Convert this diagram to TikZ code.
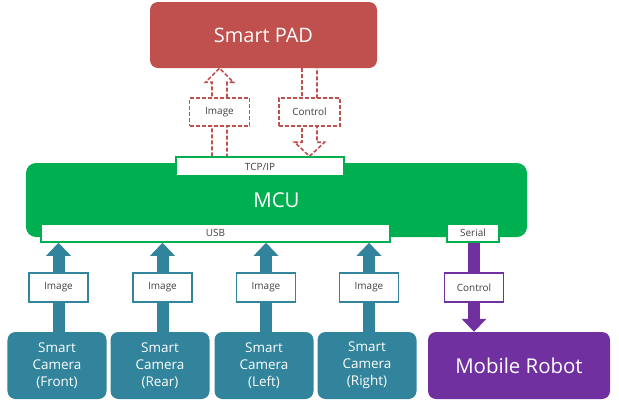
\documentclass[tikz,border=0pt]{standalone}
\usepackage{fontspec}
\setmainfont{Open Sans}
\usetikzlibrary{arrows.meta,calc}
\definecolor{padred}{HTML}{C0504D}
\definecolor{mcugreen}{HTML}{00B050}
\definecolor{camteal}{HTML}{31849B}
\definecolor{robpurple}{HTML}{7030A0}
\definecolor{labtext}{HTML}{404040}
\pgfdeclarelayer{bg}
\pgfsetlayers{bg,main}
\begin{document}
\begin{tikzpicture}[x=1bp,y=-1bp,
  box/.style={rounded corners=8bp, inner sep=0pt, align=center, text=white},
  tag/.style={draw, fill=white, inner sep=0pt, font=\fontsize{10}{12}\selectfont, text=labtext, line width=1.5bp},
  port/.style={draw=mcugreen, fill=white, inner sep=0pt, font=\fontsize{10}{12}\selectfont, text=labtext, line width=1.5bp},
  cam/.style={box, fill=camteal, minimum width=99bp, minimum height=67bp, font=\fontsize{13.5}{17}\selectfont},
  solidup/.style={line width=12bp, -{Triangle[width=24bp,length=13bp]}},
  dsh/.style={dash pattern=on 4bp off 2bp},
  hollow/.style={draw=padred, fill=white, line width=1.6bp, dsh}
]
\useasboundingbox (0,0) rectangle (619,408);

% main blocks
\node[box, fill=padred, minimum width=227bp, minimum height=66bp, font=\fontsize{20}{24}\selectfont] (pad) at (263.5,35) {Smart PAD};
\node[box, rounded corners=10bp, fill=mcugreen, minimum width=501bp, minimum height=74bp, font=\fontsize{20.5}{24}\selectfont] (mcu) at (276.5,200) {MCU};
\node[port, minimum width=168bp, minimum height=19bp] (tcp) at (260,166.5) {TCP/IP};
\node[port, minimum width=349bp, minimum height=18bp] (usb) at (215.5,233) {USB};
\node[port, minimum width=52bp, minimum height=18bp] (serial) at (473,233) {Serial};

% cameras and robot
\node[cam] (cam1) at (57,365.5) {Smart\\Camera\\(Front)};
\node[cam] (cam2) at (160,365.5) {Smart\\Camera\\(Rear)};
\node[cam] (cam3) at (264,365.5) {Smart\\Camera\\(Left)};
\node[cam] (cam4) at (367,365.5) {Smart\\Camera\\(Right)};
\node[box, fill=robpurple, minimum width=182bp, minimum height=67bp, font=\fontsize{20.5}{24}\selectfont] (robot) at (519,365.5) {Mobile Robot};

% labels on connectors
\node[tag, draw=camteal, minimum width=59bp, minimum height=29bp] (l1) at (58.5,287.5) {Image};
\node[tag, draw=camteal, minimum width=59bp, minimum height=29bp] (l2) at (162.5,287.5) {Image};
\node[tag, draw=camteal, minimum width=59bp, minimum height=29bp] (l3) at (266,287.5) {Image};
\node[tag, draw=camteal, minimum width=59bp, minimum height=29bp] (l4) at (369,287.5) {Image};
\node[tag, draw=robpurple, minimum width=59bp, minimum height=29bp] (lc) at (474,287.5) {Control};
\node[tag, draw=padred, dsh, minimum width=60bp, minimum height=28bp] (li) at (219.5,112) {Image};
\node[tag, draw=padred, dsh, minimum width=61bp, minimum height=28bp] (lk) at (309.5,112) {Control};

\begin{pgfonlayer}{bg}
  % camera -> USB
  \draw[solidup, camteal] (l1 |- cam1.north) -- (l1 |- usb.south);
  \draw[solidup, camteal] (l2 |- cam2.north) -- (l2 |- usb.south);
  \draw[solidup, camteal] (l3 |- cam3.north) -- (l3 |- usb.south);
  \draw[solidup, camteal] (l4 |- cam4.north) -- (l4 |- usb.south);
  % serial -> robot
  \draw[solidup, robpurple] (lc |- serial.south) -- (lc |- robot.north);
  % TCP/IP -> PAD (image), hollow dashed
  \coordinate (ib) at (li |- tcp.north);
  \coordinate (it) at (li |- pad.south);
  \path[hollow] ($(ib)+(-7.5,0)$) -- ($(it)+(-7.5,14)$) -- ($(it)+(-14,14)$) -- (it)
     -- ($(it)+(14,14)$) -- ($(it)+(7.5,14)$) -- ($(ib)+(7.5,0)$);
  % PAD -> TCP/IP (control), hollow dashed
  \coordinate (kt) at (lk |- pad.south);
  \coordinate (kb) at (lk |- tcp.north);
  \path[hollow] ($(kt)+(-7.5,0)$) -- ($(kb)+(-7.5,-14)$) -- ($(kb)+(-15,-14)$) -- (kb)
     -- ($(kb)+(15,-14)$) -- ($(kb)+(7.5,-14)$) -- ($(kt)+(7.5,0)$);
\end{pgfonlayer}
\end{tikzpicture}
\end{document}
